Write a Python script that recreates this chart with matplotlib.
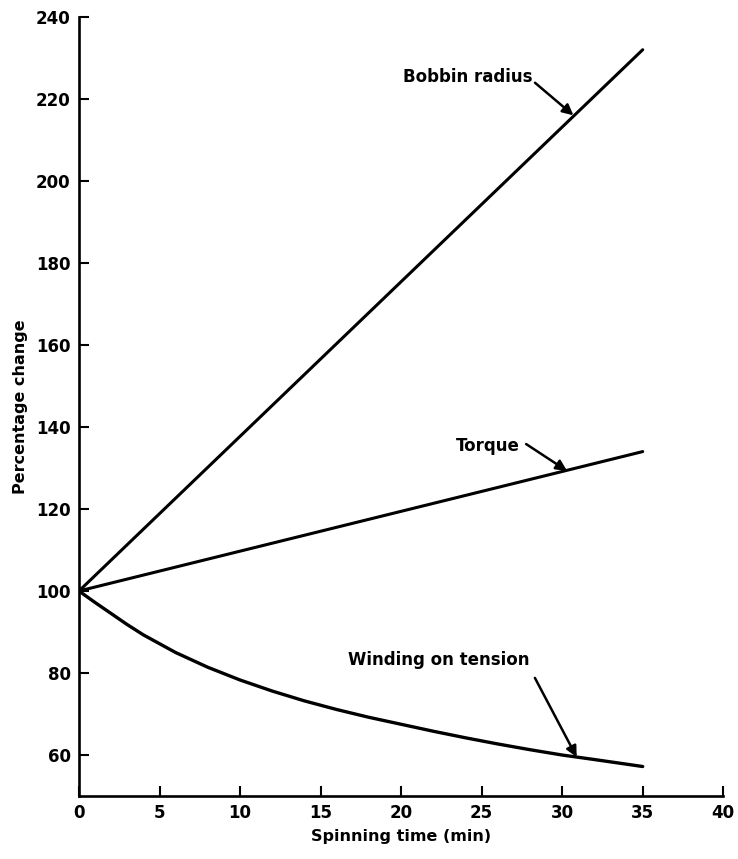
import matplotlib.pyplot as plt
import numpy as np

# values
time_min = [0, 35]
bobbin_radius = [100, 232]
torque = [100, 134]

tension_time = [0, 1, 2, 3, 4, 6, 8, 10, 12, 14, 16, 18, 20, 22, 24, 26, 28, 30, 32, 35]
winding_tension = [100, 97.2, 94.5, 91.8, 89.3, 85.0, 81.4, 78.3, 75.6, 73.2, 71.1,
                   69.2, 67.5, 65.8, 64.2, 62.7, 61.3, 60.0, 58.9, 57.2]

x_ticks = [0, 5, 10, 15, 20, 25, 30, 35, 40]
y_ticks = [60, 80, 100, 120, 140, 160, 180, 200, 220, 240]

font = {'family': 'DejaVu Sans', 'weight': 'bold'}

fig = plt.figure(figsize=(7.38, 8.59), dpi=100)
ax = fig.add_axes([0.107, 0.0733, 0.873, 0.907])

ax.plot(time_min, bobbin_radius, color='black', lw=2.2, solid_capstyle='round')
ax.plot(time_min, torque, color='black', lw=2.2, solid_capstyle='round')
ax.plot(tension_time, winding_tension, color='black', lw=2.4,
        solid_capstyle='round', solid_joinstyle='round')

ax.set_xlim(0, 40)
ax.set_ylim(50, 240)
ax.set_xticks(x_ticks)
ax.set_yticks(y_ticks)
ax.tick_params(direction='in', length=7, width=1.5, labelsize=12, pad=6)
for lab in ax.get_xticklabels() + ax.get_yticklabels():
    lab.set_fontweight('bold')

ax.spines['top'].set_visible(False)
ax.spines['right'].set_visible(False)
ax.spines['left'].set_linewidth(1.9)
ax.spines['bottom'].set_linewidth(1.9)

ax.set_xlabel('Spinning time (min)', fontsize=11.5, labelpad=5, **font)
ax.set_ylabel('Percentage change', fontsize=11.5, labelpad=6, **font)

arrow = dict(arrowstyle='-|>', color='black', lw=1.8, mutation_scale=16,
             shrinkA=0, shrinkB=0)
ax.annotate('Bobbin radius', xy=(30.7, 216), xytext=(20.1, 225.4),
            fontsize=12, va='center', ha='left', arrowprops=dict(arrow, relpos=(1.0, 0.3)), **font)
ax.annotate('Torque', xy=(30.3, 129.3), xytext=(23.4, 135.4),
            fontsize=12, va='center', ha='left', arrowprops=dict(arrow, relpos=(1.1, 0.6)), **font)
ax.annotate('Winding on tension', xy=(30.9, 59.5), xytext=(16.7, 83.2),
            fontsize=12, va='center', ha='left', arrowprops=dict(arrow, relpos=(1.03, -0.5)), **font)

fig.savefig('out.png', dpi=100)
